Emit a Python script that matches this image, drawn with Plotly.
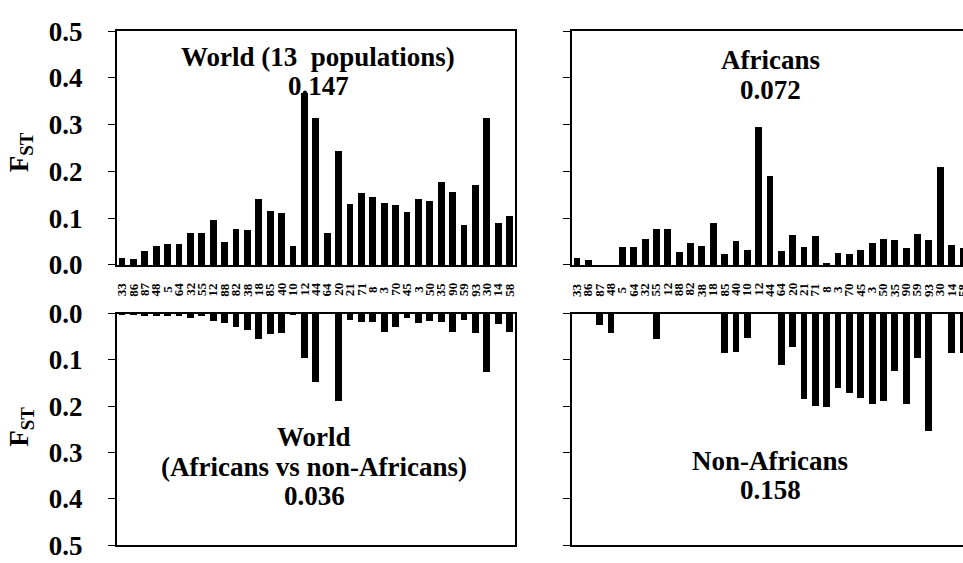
import plotly.graph_objects as go

# Locus labels (shared order for every panel)
loci = ["33", "86", "87", "48", "5", "64", "32", "55", "12", "88", "82", "38",
        "18", "85", "40", "10", "12", "44", "64", "20", "21", "71", "8", "3",
        "70", "45", "3", "50", "35", "90", "59", "93", "30", "14", "58"]

# F_ST per locus
fst_world13 = [0.015, 0.013, 0.029, 0.041, 0.044, 0.044, 0.068, 0.069, 0.095, 0.048,
               0.077, 0.074, 0.141, 0.116, 0.110, 0.041, 0.367, 0.315, 0.069, 0.243,
               0.131, 0.154, 0.145, 0.133, 0.127, 0.114, 0.140, 0.137, 0.178, 0.156,
               0.086, 0.171, 0.313, 0.089, 0.105]
fst_africans = [0.015, 0.010, 0.0, 0.0, 0.039, 0.039, 0.056, 0.077, 0.077, 0.028,
                0.047, 0.040, 0.090, 0.023, 0.052, 0.032, 0.295, 0.190, 0.029, 0.064,
                0.039, 0.061, 0.002, 0.026, 0.024, 0.032, 0.046, 0.056, 0.054, 0.036,
                0.067, 0.053, 0.209, 0.042, 0.036]
fst_afr_vs_nonafr = [0.002, 0.002, 0.003, 0.003, 0.004, 0.004, 0.009, 0.004, 0.016, 0.020,
                     0.028, 0.034, 0.053, 0.044, 0.040, 0.002, 0.096, 0.147, 0.0, 0.188,
                     0.014, 0.018, 0.018, 0.038, 0.029, 0.009, 0.020, 0.016, 0.017, 0.038,
                     0.012, 0.041, 0.125, 0.021, 0.038]
fst_nonafricans = [0.0, 0.0, 0.023, 0.040, 0.0, 0.0, 0.0, 0.055, 0.0, 0.0,
                   0.0, 0.0, 0.0, 0.085, 0.083, 0.051, 0.0, 0.0, 0.110, 0.071,
                   0.184, 0.199, 0.201, 0.160, 0.170, 0.181, 0.195, 0.187, 0.123, 0.194,
                   0.096, 0.253, 0.0, 0.085, 0.085]

titles = {
    "tl": ["World (13\u00a0 populations)", "0.147"],
    "tr": ["Africans", "0.072"],
    "bl": ["World", "(Africans vs non-Africans)", "0.036"],
    "br": ["Non-Africans", "0.158"],
}

W, H = 963, 563
SERIF = "Liberation Serif, Times New Roman, serif"
idx = list(range(len(loci)))


def px_x(p):
    return p / W


def px_y(p):
    return (H - p) / H


fig = go.Figure()
panels = [
    ("x", "y", fst_world13),
    ("x2", "y2", fst_africans),
    ("x3", "y3", fst_afr_vs_nonafr),
    ("x4", "y4", fst_nonafricans),
]
for xa, ya, vals in panels:
    fig.add_trace(go.Bar(x=idx, y=vals, xaxis=xa, yaxis=ya, width=0.6,
                         marker=dict(color="black", line=dict(width=0)),
                         showlegend=False, hoverinfo="skip"))

left_dom = [px_x(116.7), px_x(515)]
right_dom = [px_x(571.5), 1.0]
top_dom = [px_y(264), px_y(17)]
bot_dom = [px_y(560), px_y(315.5)]

line = dict(showline=True, linecolor="black", linewidth=1.6)
tickfont = dict(family=SERIF, size=27, color="black", weight="bold")

xcommon = dict(showgrid=False, zeroline=False, showticklabels=False, ticks="", **line)
ycommon = dict(showgrid=False, zeroline=False, ticks="outside", ticklen=7,
               tickwidth=1.4, tickcolor="black", tickvals=[0, 0.1, 0.2, 0.3, 0.4, 0.5],
               tickformat=".1f", tickfont=tickfont, ticklabelstandoff=20, **line)

fig.update_layout(
    width=W, height=H,
    margin=dict(l=0, r=0, t=0, b=0),
    paper_bgcolor="white", plot_bgcolor="white",
    bargap=0,
    xaxis=dict(domain=left_dom, range=[-0.44, 34.5], anchor="y", mirror=True, **xcommon),
    yaxis=dict(domain=top_dom, range=[0, 0.5], anchor="x", mirror=True, **ycommon),
    xaxis2=dict(domain=right_dom, range=[-0.44, 34.05], anchor="y2", mirror=True, **xcommon),
    yaxis2=dict(domain=top_dom, range=[0, 0.5], anchor="x2", mirror=False,
                showticklabels=False, **ycommon),
    xaxis3=dict(domain=left_dom, range=[-0.44, 34.5], anchor="y3", mirror=True, **xcommon),
    yaxis3=dict(domain=bot_dom, range=[0.5, 0], anchor="x3", mirror=True, **ycommon),
    xaxis4=dict(domain=right_dom, range=[-0.44, 34.05], anchor="y4", mirror=False, **xcommon),
    yaxis4=dict(domain=bot_dom, range=[0.5, 0], anchor="x4", mirror=False,
                showticklabels=False, **ycommon),
)
# top edge line of the lower-right panel (its zero line)
fig.update_layout(xaxis4=dict(mirror=True))

ann = []
labfont = dict(family=SERIF, size=13, color="black", weight="bold")
for xr in ("x", "x2"):
    for i, lab in enumerate(loci):
        ann.append(dict(x=i, y=px_y(290), xref=xr, yref="paper", text=lab,
                        textangle=-90, showarrow=False, font=labfont,
                        xanchor="center", yanchor="middle"))

titlefont = dict(family=SERIF, size=27, color="black", weight="bold")
title_pos = {
    "tl": (318, [44, 75]),
    "tr": (770, [48, 79]),
    "bl": (314, [446, 477, 508]),
    "br": (770, [471, 502]),
}
for key, (cx, ys) in title_pos.items():
    for txt, yy in zip(titles[key], ys):
        ann.append(dict(x=px_x(cx), y=px_y(yy), xref="paper", yref="paper", text=txt,
                        showarrow=False, font=titlefont, xanchor="center", yanchor="middle"))

for yy in (145, 435):
    ann.append(dict(x=px_x(21), y=px_y(yy), xref="paper", yref="paper",
                    text="F<sub>ST</sub>", textangle=-90, showarrow=False,
                    font=dict(family=SERIF, size=27, color="black", weight="bold"),
                    xanchor="center", yanchor="middle"))

fig.update_layout(annotations=ann)
fig.write_html("out.html")
